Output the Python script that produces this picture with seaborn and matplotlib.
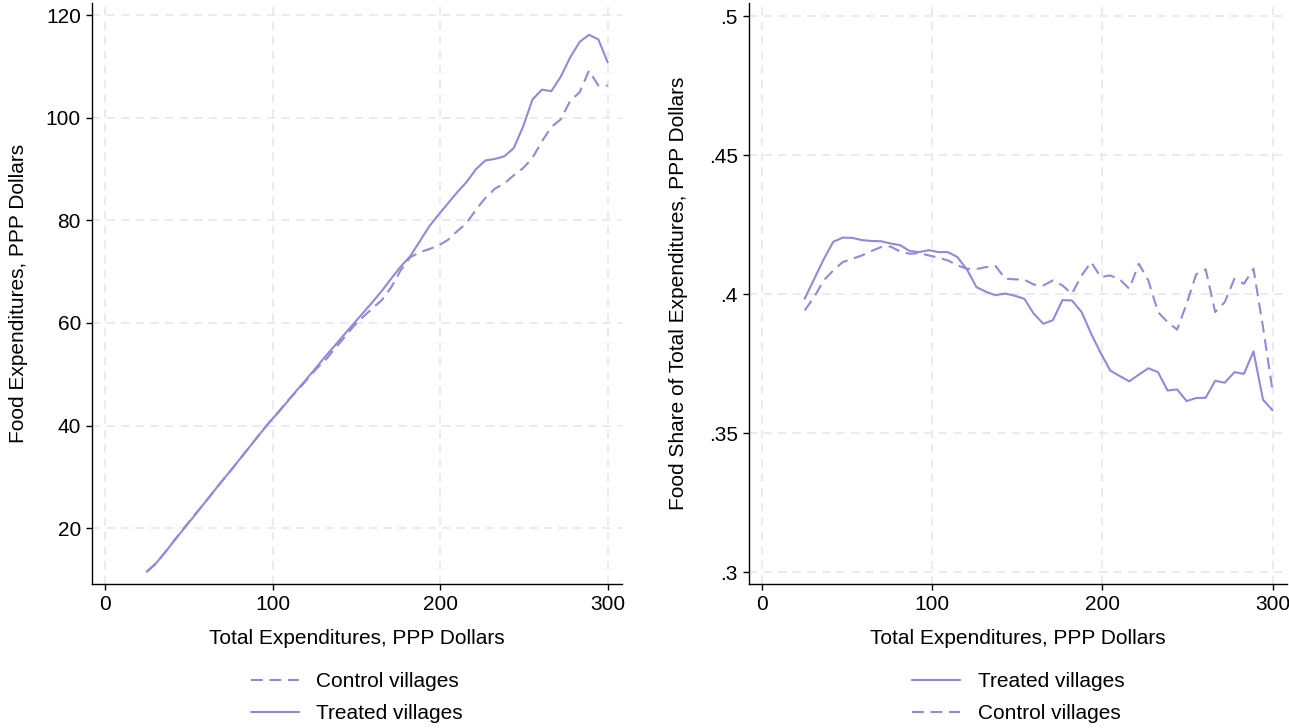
import matplotlib
matplotlib.use("Agg")
import matplotlib.pyplot as plt
import seaborn as sns
import pandas as pd
from matplotlib.ticker import FuncFormatter

# Evaluation grid of total expenditures (PPP dollars)
total_exp = [25.0, 30.6, 36.2, 41.8, 47.4, 53.1, 58.7, 64.3, 69.9, 75.5,
             81.1, 86.7, 92.3, 98.0, 103.6, 109.2, 114.8, 120.4, 126.0, 131.6,
             137.2, 142.9, 148.5, 154.1, 159.7, 165.3, 170.9, 176.5, 182.1, 187.8,
             193.4, 199.0, 204.6, 210.2, 215.8, 221.4, 227.0, 232.7, 238.3, 243.9,
             249.5, 255.1, 260.7, 266.3, 271.9, 277.6, 283.2, 288.8, 294.4, 300.0]

# Food expenditures, PPP dollars
food_treated = [11.5, 13.2, 15.4, 17.7, 20.0, 22.3, 24.6, 26.9, 29.2, 31.4,
                33.7, 36.0, 38.3, 40.6, 42.6, 44.8, 47.0, 49.1, 51.3, 53.5,
                55.6, 57.8, 59.9, 62.0, 64.1, 66.3, 68.7, 71.0, 73.0, 75.9,
                78.8, 81.1, 83.3, 85.5, 87.5, 90.0, 91.7, 92.0, 92.5, 94.1,
                98.3, 103.6, 105.5, 105.2, 108.0, 111.8, 114.8, 116.2, 115.3, 110.8]
food_control = [11.5, 13.1, 15.4, 17.8, 20.1, 22.4, 24.6, 26.9, 29.2, 31.4,
                33.7, 36.0, 38.3, 40.6, 42.7, 44.9, 46.8, 48.9, 51.0, 52.8,
                55.0, 57.2, 59.4, 61.2, 62.9, 64.5, 67.0, 70.3, 72.8, 73.8,
                74.4, 75.1, 76.2, 77.9, 79.5, 82.1, 84.4, 86.2, 87.2, 88.8,
                90.2, 92.2, 95.4, 98.2, 99.7, 103.3, 105.0, 109.2, 106.3, 106.3]

# Food share of total expenditures
share_treated = [.3983, .4054, .4125, .4188, .4203, .4202, .4194, .4191, .4190, .4182,
                 .4176, .4155, .4151, .4158, .4151, .4151, .4133, .4088, .4025, .4008,
                 .3996, .4002, .3994, .3983, .3929, .3893, .3906, .3978, .3977, .3935,
                 .3857, .3788, .3725, .3705, .3686, .3710, .3733, .3719, .3653, .3657,
                 .3615, .3626, .3627, .3688, .3681, .3719, .3713, .3794, .3620, .3582]
share_control = [.3941, .3989, .4049, .4085, .4115, .4127, .4139, .4155, .4169, .4171,
                 .4153, .4145, .4147, .4139, .4131, .4121, .4103, .4091, .4090, .4097,
                 .4101, .4055, .4053, .4052, .4034, .4031, .4049, .4031, .4001, .4067,
                 .4115, .4061, .4067, .4053, .4019, .4109, .4049, .3935, .3899, .3872,
                 .3965, .4071, .4089, .3935, .3971, .4055, .4037, .4091, .3881, .3653]

x_ticks = [0, 100, 200, 300]
food_ticks = [20, 40, 60, 80, 100, 120]
share_ticks = [.30, .35, .40, .45, .50]

df = pd.DataFrame({
    "total": total_exp,
    "food_treated": food_treated,
    "food_control": food_control,
    "share_treated": share_treated,
    "share_control": share_control,
})

sns.set_theme(style="white")
plt.rcParams["font.family"] = ["Liberation Sans", "DejaVu Sans"]
plt.rcParams["lines.scale_dashes"] = False
plt.rcParams["text.color"] = "black"
plt.rcParams["axes.labelcolor"] = "black"
plt.rcParams["xtick.color"] = "black"
plt.rcParams["ytick.color"] = "black"

LINE = "#8f8bd6"
GRID = "#e9e9e9"
DASH = (0, (8.5, 4.8))
FS = 15

fig = plt.figure(figsize=(12.89, 7.28), dpi=100)
ax1 = fig.add_axes([92 / 1289, 1 - 584 / 728, 530 / 1289, 581 / 728])
ax2 = fig.add_axes([749 / 1289, 1 - 584 / 728, 538 / 1289, 581 / 728])


def style_axes(ax, yticks, ylim):
    ax.set_xlim(-7.7, 308.5)
    ax.set_ylim(*ylim)
    ax.set_xticks(x_ticks)
    ax.set_yticks(yticks)
    ax.grid(True, color=GRID, linestyle=(0, (6, 4.5)), linewidth=1.3)
    ax.set_axisbelow(True)
    for side in ("top", "right"):
        ax.spines[side].set_visible(False)
    for side in ("left", "bottom"):
        ax.spines[side].set_color("black")
        ax.spines[side].set_linewidth(1.0)
    ax.tick_params(axis="both", direction="out", length=4, width=1.0,
                   color="black", labelcolor="black", labelsize=FS, pad=4,
                   left=True, bottom=True)
    ax.set_facecolor("white")


# Left: food expenditure levels
sns.lineplot(data=df, x="total", y="food_control", ax=ax1, color=LINE,
             linewidth=1.5, linestyle=DASH, label="Control villages")
sns.lineplot(data=df, x="total", y="food_treated", ax=ax1, color=LINE,
             linewidth=1.5, label="Treated villages")
style_axes(ax1, food_ticks, (9.1, 122.4))
ax1.set_xlabel("Total Expenditures, PPP Dollars", fontsize=FS, labelpad=11)
ax1.set_ylabel("Food Expenditures, PPP Dollars", fontsize=FS, labelpad=13)
h1, l1 = ax1.get_legend_handles_labels()
ax1.legend(h1, l1, loc="upper center", bbox_to_anchor=(0.5, -0.12),
           frameon=False, fontsize=FS, handlelength=2.3, handletextpad=0.85,
           labelspacing=0.62)

# Right: food share of total expenditures
sns.lineplot(data=df, x="total", y="share_treated", ax=ax2, color=LINE,
             linewidth=1.5, label="Treated villages")
sns.lineplot(data=df, x="total", y="share_control", ax=ax2, color=LINE,
             linewidth=1.5, linestyle=DASH, label="Control villages")
style_axes(ax2, share_ticks, (0.2957, 0.5047))
ax2.yaxis.set_major_formatter(FuncFormatter(
    lambda v, p: ("%g" % round(v, 2)).lstrip("0")))
ax2.set_xlabel("Total Expenditures, PPP Dollars", fontsize=FS, labelpad=11)
ax2.set_ylabel("Food Share of Total Expenditures, PPP Dollars", fontsize=FS,
               labelpad=15)
h2, l2 = ax2.get_legend_handles_labels()
ax2.legend(h2, l2, loc="upper center", bbox_to_anchor=(0.5, -0.12),
           frameon=False, fontsize=FS, handlelength=2.3, handletextpad=0.85,
           labelspacing=0.62)

fig.savefig("out.png", dpi=100, facecolor="white")
